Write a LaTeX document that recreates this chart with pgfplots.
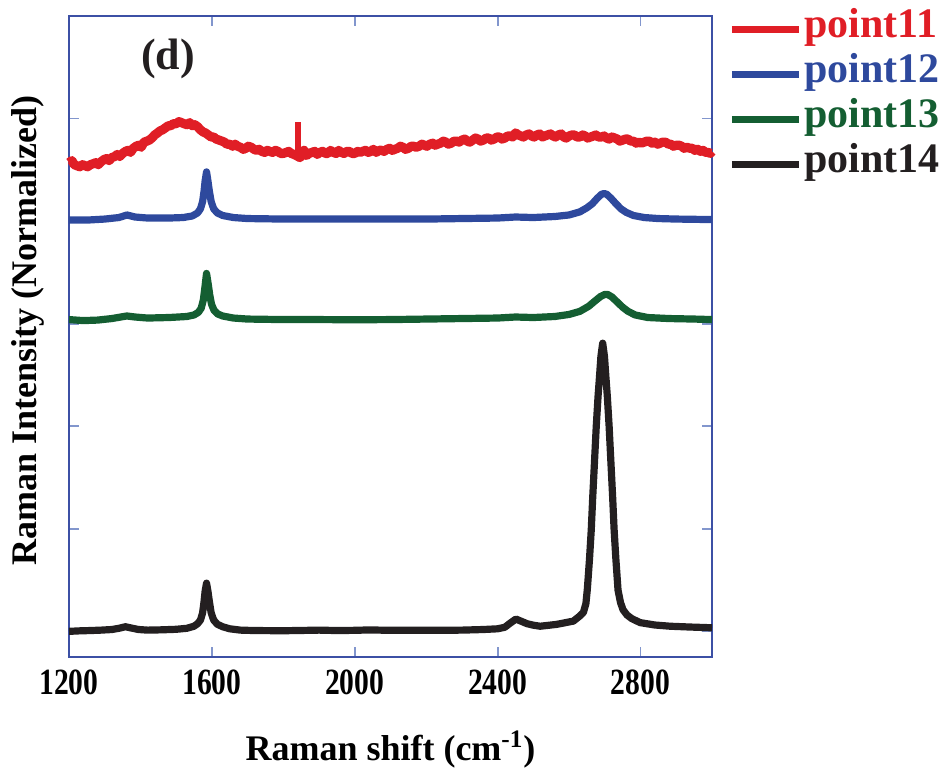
\documentclass[border=0pt]{standalone}
\usepackage{pgfplots}
\pgfplotsset{compat=1.18}
\usepackage{fontspec}
\setmainfont{Liberation Serif}
\newfontfamily\tickfont[FakeStretch=0.8]{Liberation Serif}
\definecolor{cred}{RGB}{224,30,38}
\definecolor{cblue}{RGB}{46,73,157}
\definecolor{cgreen}{RGB}{20,94,50}
\definecolor{cblack}{RGB}{35,31,32}
\definecolor{axblue}{RGB}{60,80,165}
\definecolor{tkblue}{RGB}{130,150,205}
\begin{document}
\begin{tikzpicture}
\useasboundingbox (-34.5pt,-57pt) rectangle (437pt,328.5pt);
\begin{axis}[
  scale only axis,
  width=321.5pt, height=320.5pt,
  xmin=1200, xmax=3000, ymin=-0.25, ymax=6,
  xtick={1200,1600,2000,2400,2800},
  ytick={0,1,2,3,4,5,6},
  yticklabels={},
  tick align=inside,
  major tick length=5pt,
  tick style={color=tkblue, line width=0.9pt},
  axis line style={color=axblue, line width=0.8pt},
  clip=false,
  /pgf/number format/assume math mode=true,
  /pgf/number format/set thousands separator={},
  xticklabel style={font=\tickfont\fontsize{18.5}{18.5}\selectfont\bfseries, yshift=-3pt},
  xlabel={Raman shift (cm\textsuperscript{-1})},
  ylabel={Raman Intensity (Normalized)},
  xlabel style={font=\fontsize{18}{18}\selectfont\bfseries, at={(axis description cs:0.5,-0.1607)}, anchor=base},
  ylabel style={font=\fontsize{18}{18}\selectfont\bfseries, at={(axis description cs:-0.0638,0.51)}, anchor=center},
  legend style={at={(axis description cs:1,1)}, anchor=north west, xshift=8pt, yshift=4.5pt,
    draw=none, fill=none, inner sep=0pt, row sep=0pt,
    font=\fontsize{21}{21}\selectfont\bfseries,
    nodes={inner sep=0pt, text height=15pt, text depth=7.5pt},
    /tikz/column sep=1pt,
    cells={anchor=west}},
  legend image code/.code={\draw[#1, line width=3.5pt] (0pt,0pt) -- (33.5pt,0pt);},
  every axis plot/.append style={line join=round, mark=none},
]
\addplot[cred, line width=4.6pt] coordinates {
(1200,4.57) (1208,4.59) (1215,4.55) (1222,4.54) (1230,4.53) (1238,4.55) (1245,4.54) (1252,4.53) (1260,4.55) (1268,4.56) (1275,4.57) (1282,4.55) (1290,4.58) (1298,4.60) (1305,4.61)
(1312,4.59) (1320,4.62) (1328,4.63) (1335,4.65) (1342,4.63) (1350,4.66) (1358,4.68) (1365,4.69) (1372,4.67) (1380,4.71) (1388,4.73) (1395,4.74) (1402,4.72) (1410,4.77) (1418,4.78) (1425,4.79)
(1432,4.81) (1440,4.84) (1448,4.86) (1455,4.88) (1462,4.89) (1470,4.91) (1478,4.93) (1485,4.93) (1492,4.95) (1500,4.95) (1508,4.97) (1515,4.96) (1522,4.95) (1530,4.94) (1538,4.96) (1545,4.93)
(1552,4.94) (1560,4.92) (1568,4.89) (1575,4.87) (1582,4.86) (1590,4.84) (1598,4.82) (1605,4.82) (1612,4.80) (1620,4.79) (1628,4.78) (1635,4.77) (1642,4.75) (1650,4.75) (1658,4.73) (1665,4.75)
(1672,4.73) (1680,4.72) (1688,4.70) (1695,4.71) (1702,4.73) (1710,4.72) (1718,4.70) (1725,4.69) (1732,4.70) (1740,4.68) (1748,4.67) (1755,4.69) (1762,4.68) (1770,4.67) (1778,4.69) (1785,4.68)
(1792,4.66) (1800,4.66) (1808,4.67) (1815,4.68) (1822,4.66) (1830,4.65) (1836,4.64) (1846,4.62) (1852,4.64)
(1858,4.69) (1865,4.64) (1872,4.66) (1880,4.67) (1888,4.68) (1895,4.65) (1902,4.67) (1910,4.68) (1918,4.66) (1925,4.66) (1932,4.69) (1940,4.67) (1948,4.66) (1955,4.69) (1962,4.67)
(1970,4.66) (1978,4.68) (1985,4.68) (1992,4.66) (2000,4.66) (2008,4.68) (2015,4.67) (2022,4.68) (2030,4.69) (2038,4.67) (2045,4.68) (2052,4.70) (2060,4.67) (2068,4.69) (2075,4.69)
(2082,4.68) (2090,4.70) (2098,4.71) (2105,4.69) (2112,4.70) (2120,4.71) (2128,4.73) (2135,4.72) (2142,4.70) (2150,4.71) (2158,4.73) (2165,4.73) (2172,4.72) (2180,4.73) (2188,4.75) (2195,4.74)
(2202,4.73) (2210,4.75) (2218,4.76) (2225,4.74) (2232,4.75) (2240,4.76) (2248,4.78) (2255,4.77) (2262,4.75) (2270,4.76) (2278,4.78) (2285,4.78) (2292,4.77) (2300,4.79) (2308,4.80) (2315,4.78)
(2322,4.77) (2330,4.79) (2338,4.81) (2345,4.80) (2352,4.78) (2360,4.79) (2368,4.81) (2375,4.81) (2382,4.79) (2390,4.80) (2398,4.82) (2405,4.82) (2412,4.80) (2420,4.81) (2428,4.83) (2435,4.83)
(2442,4.82) (2450,4.86) (2458,4.84) (2465,4.83) (2472,4.82) (2480,4.84) (2488,4.85) (2495,4.83) (2502,4.82) (2510,4.84) (2518,4.85) (2525,4.82) (2532,4.83) (2540,4.84) (2548,4.85) (2555,4.83)
(2562,4.82) (2570,4.84) (2578,4.85) (2585,4.82) (2592,4.81) (2600,4.83) (2608,4.84) (2615,4.84) (2622,4.82) (2630,4.82) (2638,4.84) (2645,4.83) (2652,4.81) (2660,4.82) (2668,4.83) (2675,4.84)
(2682,4.82) (2690,4.82) (2698,4.83) (2705,4.81) (2712,4.80) (2720,4.82) (2728,4.81) (2735,4.80) (2742,4.78) (2750,4.79) (2758,4.80) (2765,4.80) (2772,4.78) (2780,4.78) (2788,4.76) (2795,4.77)
(2802,4.76) (2810,4.77) (2818,4.78) (2825,4.78) (2832,4.76) (2840,4.77) (2848,4.75) (2855,4.76) (2862,4.77) (2870,4.77) (2878,4.75) (2885,4.75) (2892,4.73) (2900,4.74) (2908,4.74) (2915,4.73)
(2922,4.71) (2930,4.72) (2938,4.71) (2945,4.71) (2952,4.69) (2960,4.70) (2968,4.68) (2975,4.69) (2982,4.67) (2990,4.67) (2995,4.66) (3000,4.68)
};
\addlegendentry{\textcolor{cred}{point11}}
\addplot[cred, line width=3pt, forget plot] coordinates {(1841,4.62) (1841,4.97)};
\addplot[cblue, line width=3.6pt] coordinates {
(1200,4.010) (1250,4.010) (1300,4.020) (1340,4.035) (1362,4.060) (1385,4.040) (1420,4.030)
(1480,4.030) (1520,4.035) (1545,4.050) (1560,4.080) (1568,4.120) (1574,4.190) (1578,4.290)
(1581,4.390) (1585,4.480) (1589,4.390) (1593,4.290) (1598,4.190) (1605,4.120) (1615,4.080)
(1630,4.055) (1660,4.035) (1700,4.025) (1800,4.020) (1900,4.020) (2000,4.020) (2100,4.020)
(2200,4.020) (2300,4.025) (2400,4.030) (2450,4.040) (2500,4.035) (2560,4.045) (2600,4.060)
(2630,4.090) (2650,4.130) (2665,4.170) (2678,4.220) (2690,4.260) (2698,4.270) (2706,4.260)
(2718,4.220) (2731,4.170) (2745,4.120) (2760,4.085) (2780,4.055) (2810,4.035) (2850,4.025)
(2900,4.020) (3000,4.015)
};
\addlegendentry{\textcolor{cblue}{point12}}
\addplot[cgreen, line width=3.6pt] coordinates {
(1200,3.040) (1240,3.030) (1280,3.035) (1320,3.050) (1345,3.065) (1362,3.075) (1385,3.065)
(1420,3.055) (1480,3.060) (1530,3.070) (1550,3.085) (1562,3.110) (1570,3.150) (1576,3.230)
(1580,3.340) (1585,3.490) (1590,3.380) (1594,3.280) (1599,3.190) (1606,3.130) (1616,3.095)
(1630,3.075) (1660,3.055) (1700,3.045) (1800,3.040) (1900,3.040) (2000,3.038) (2100,3.040)
(2200,3.045) (2300,3.050) (2400,3.055) (2450,3.065) (2500,3.060) (2560,3.070) (2600,3.090)
(2630,3.120) (2655,3.170) (2672,3.220) (2688,3.265) (2700,3.285) (2708,3.285) (2720,3.260)
(2735,3.210) (2750,3.160) (2765,3.120) (2785,3.085) (2820,3.060) (2880,3.050) (2950,3.045)
(3000,3.040)
};
\addlegendentry{\textcolor{cgreen}{point13}}
\addplot[cblack, line width=3.6pt] coordinates {
(1200,0.000) (1230,0.005) (1260,0.008) (1290,0.012) (1320,0.018) (1340,0.030) (1358,0.045)
(1375,0.032) (1395,0.018) (1420,0.012) (1460,0.015) (1500,0.020) (1530,0.030) (1550,0.050)
(1560,0.075) (1568,0.110) (1574,0.180) (1578,0.290) (1581,0.390) (1585,0.470) (1589,0.390)
(1593,0.290) (1598,0.180) (1605,0.110) (1615,0.070) (1630,0.045) (1650,0.025) (1680,0.012)
(1720,0.008) (1800,0.006) (1870,0.010) (1900,0.012) (1950,0.008) (2000,0.010) (2040,0.014)
(2100,0.010) (2200,0.010) (2300,0.012) (2360,0.018) (2400,0.025) (2420,0.040) (2435,0.080)
(2451,0.120) (2465,0.100) (2482,0.075) (2500,0.060) (2519,0.050) (2565,0.068) (2612,0.100)
(2630,0.150) (2640,0.185) (2647,0.270) (2651,0.410) (2657,0.700) (2662,0.990) (2666,1.300)
(2671,1.650) (2676,2.000) (2681,2.290) (2685,2.480) (2689,2.680) (2694,2.810) (2699,2.680)
(2703,2.480) (2707,2.290) (2712,2.000) (2717,1.650) (2722,1.300) (2726,0.990) (2731,0.700)
(2737,0.400) (2744,0.280) (2751,0.210) (2762,0.160) (2775,0.125) (2799,0.085) (2840,0.062)
(2883,0.050) (2940,0.042) (3000,0.035)
};
\addlegendentry{\textcolor{cblack}{point14}}
\node[font=\fontsize{22}{22}\selectfont\bfseries, text=cblack] at (axis cs:1477,5.58) {(d)};
\end{axis}
\end{tikzpicture}
\end{document}
